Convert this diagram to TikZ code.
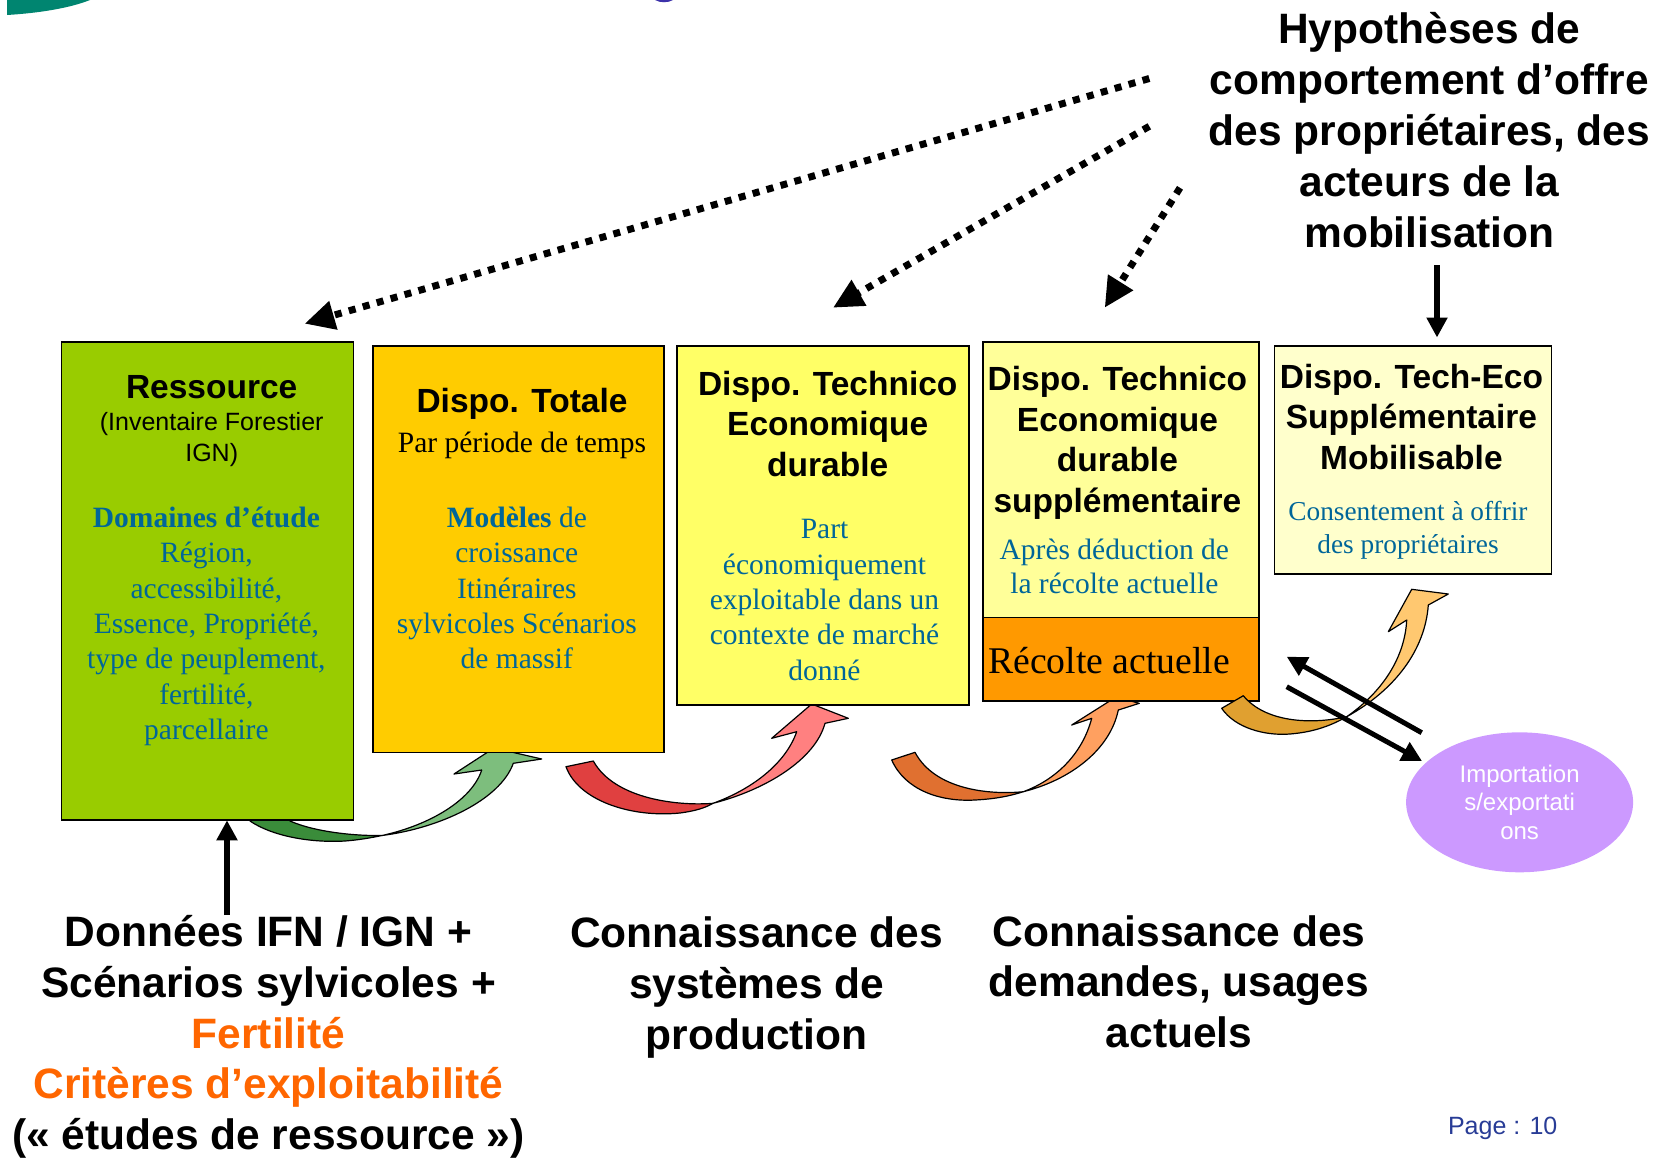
\documentclass[tikz,border=0pt]{standalone}
\usepackage{fontspec}
\setmainfont{Liberation Serif}
\setsansfont{Liberation Sans}
\usetikzlibrary{arrows.meta,shapes.geometric}

\definecolor{ressgreen}{RGB}{153,204,0}
\definecolor{totyellow}{RGB}{255,204,0}
\definecolor{teyellow}{RGB}{255,255,102}
\definecolor{supyellow}{RGB}{255,255,153}
\definecolor{mobyellow}{RGB}{255,255,204}
\definecolor{recorange}{RGB}{255,153,0}
\definecolor{lilac}{RGB}{204,153,255}
\definecolor{bodyblue}{RGB}{0,102,153}
\definecolor{hiorange}{RGB}{255,102,0}
\definecolor{pageblue}{RGB}{40,60,150}
\definecolor{logoteal}{RGB}{0,133,112}
\definecolor{titleblue}{RGB}{60,50,170}
\definecolor{greendark}{RGB}{58,140,58}
\definecolor{greenlight}{RGB}{125,190,125}
\definecolor{reddark}{RGB}{224,64,64}
\definecolor{redlight}{RGB}{255,128,128}
\definecolor{orangedark}{RGB}{224,112,48}
\definecolor{orangelight}{RGB}{255,160,96}
\definecolor{golddark}{RGB}{224,160,48}
\definecolor{goldlight}{RGB}{255,200,112}

\newcommand\fsz[2]{\fontsize{#1pt}{#2pt}\selectfont}

\begin{document}
\begin{tikzpicture}[x=1pt,y=-1pt,
  box/.style={draw=black, line width=1.8pt, rectangle, inner sep=0pt, outer sep=0pt},
  boxtitle/.style={font=\sffamily\bfseries\fsz{33.5}{40.8}, align=center, inner sep=0pt},
  boxbody/.style={font=\fsz{29.5}{35.4}, text=bodyblue, align=center, inner sep=0pt},
  bigtext/.style={font=\sffamily\bfseries\fsz{42.5}{50.8}, align=center, inner sep=0pt},
  band/.style={draw=black, line width=1.2pt, line join=round},
  dotarrow/.style={line width=7pt, dash pattern=on 7pt off 7.5pt,
    -{Triangle[length=30pt,width=28pt]}},
  solidarrow/.style={line width=5.5pt, -{Triangle[length=20pt,width=20pt]}},
  flowarrow/.style={line width=5pt, -{Triangle[length=20pt,width=20pt]}}]
\useasboundingbox (0,0) rectangle (1664,1157);

% fragments of the page header
\fill[logoteal] (7,0) -- (7,15) .. controls (40,13) and (70,8) .. (90,0) -- cycle;
\fill[titleblue] (655,0) .. controls (660,3) and (668,3) .. (673,0) -- cycle;

% curved transfer arrows (behind the boxes)
\filldraw[band, fill=greendark] (250,815) -- (250,821) .. controls (272,836) and (310,843) .. (345,841)
  .. controls (358,840) and (370,838) .. (382,835.5)
  .. controls (355,836) and (315,832) .. (290,821) -- (290,815) -- cycle;
\filldraw[band, fill=greenlight] (382,835.5) .. controls (440,828) and (500,800) .. (513.3,763.3)
  -- (541.7,759) -- (494,748) -- (454,774) -- (481.7,770)
  .. controls (472,800) and (430,825) .. (382,835.5) -- cycle;

\filldraw[band, fill=reddark] (566,766.7) .. controls (578,800) and (630,818) .. (680,813)
  .. controls (695,811) and (705,808) .. (713,803.3)
  .. controls (680,806) and (615,800) .. (593.3,761) -- cycle;
\filldraw[band, fill=redlight] (713,803.3) .. controls (765,790) and (815,760) .. (825,723.3)
  -- (848.3,718.3) -- (811.7,704) -- (771.7,738.3) -- (796.7,731.7)
  .. controls (785,765) and (750,790) .. (713,803.3) -- cycle;

\filldraw[band, fill=orangedark] (891.7,760) .. controls (905,790) and (940,802) .. (975,800)
  .. controls (995,799) and (1010,796) .. (1023.3,791.7)
  .. controls (990,795) and (935,790) .. (915,752.3) -- cycle;
\filldraw[band, fill=orangelight] (1023.3,791.7) .. controls (1070,780) and (1110,750) .. (1118.3,710)
  -- (1139.3,703.3) -- (1116,697) -- (1071.7,725) -- (1091.7,718.3)
  .. controls (1082,755) and (1055,780) .. (1023.3,791.7) -- cycle;

% boxes
\node[box, fill=ressgreen, minimum width=292pt, minimum height=478.6pt] (b1) at (207.5,581) {};
\node[box, fill=totyellow, minimum width=291.6pt, minimum height=406.5pt] (b2) at (518.5,549.3) {};
\node[box, fill=teyellow, minimum width=292.3pt, minimum height=359pt] (b3) at (823.2,525.5) {};
\node[box, fill=supyellow, minimum width=276.3pt, minimum height=275.8pt] (b4) at (1120.8,479.6) {};
\node[box, fill=recorange, minimum width=276.3pt, minimum height=83.5pt] (b4r) at (1120.8,659.2) {};
\node[box, fill=mobyellow, minimum width=277pt, minimum height=228pt] (b5) at (1413,460) {};

% import / export
\node[ellipse, fill=lilac, minimum width=227pt, minimum height=140pt, inner sep=0pt,
  font=\sffamily\fsz{24}{28.7}, text=white, align=center] (imp) at (1519.6,802.3)
  {Importation\\s/exportati\\ons};

% curved arrow from the current harvest to the mobilisable supply
\filldraw[band, fill=golddark] (1221.7,708.3) .. controls (1235,728) and (1265,736) .. (1290,734)
  .. controls (1315,732) and (1332,725) .. (1346.7,716.7)
  .. controls (1310,725) and (1265,722) .. (1243.3,695.7) -- cycle;
\filldraw[band, fill=goldlight] (1346.7,716.7) .. controls (1395,690) and (1425,650) .. (1428.3,605)
  -- (1448.3,594) -- (1411.7,589.3) -- (1388.3,631.7) -- (1406.7,620)
  .. controls (1405,655) and (1385,690) .. (1346.7,716.7) -- cycle;

% exchanges with the outside
\coordinate (ximp1) at (1421.7,732.7);
\coordinate (xrec1) at (1286.7,656.7);
\coordinate (xrec2) at (1286.7,686.7);
\coordinate (ximp2) at (1422,761);
\draw[flowarrow] (ximp1) -- (xrec1);
\draw[flowarrow] (xrec2) -- (ximp2);

% box texts
\node[boxtitle] (t1) at (211.7,387) {Ressource};
\node[font=\sffamily\fsz{25}{31}, align=center, inner sep=0pt] (t1s) at (211.7,440)
  {(Inventaire Forestier\\IGN)};
\node[boxbody] (t1b) at (206.4,626.3)
  {\textbf{Domaines d’étude}\\Région,\\accessibilité,\\Essence, Propriété,\\type de peuplement,\\fertilité,\\parcellaire};

\node[boxtitle] (t2) at (522,404) {Dispo. Totale};
\node[font=\fsz{29.5}{35.4}, inner sep=0pt] (t2s) at (522,445.5) {Par période de temps};
\node[boxbody] (t2b) at (516.8,588) 
  {\textbf{Modèles} de\\croissance\\Itinéraires\\sylvicoles Scénarios\\de massif};

\node[boxtitle] (t3) at (827.7,424) {Dispo. Technico\\Economique\\durable};
\node[boxbody] (t3b) at (824.5,600)
  {Part\\économiquement\\exploitable dans un\\contexte de marché\\donné};

\node[boxtitle] (t4) at (1117.4,442.8) {Dispo. Technico\\Economique\\durable\\supplémentaire};
\node[boxbody, font=\fsz{29.5}{34}] (t4b) at (1114.3,566.3) {Après déduction de\\la récolte actuelle};
\node[font=\fsz{37.7}{44}, inner sep=0pt] (t4r) at (1109,661) {Récolte actuelle};

\node[boxtitle, font=\sffamily\bfseries\fsz{33.5}{40.3}] (t5) at (1411.4,417) {Dispo. Tech-Eco\\Supplémentaire\\Mobilisable};
\node[boxbody, font=\fsz{27.3}{33}] (t5b) at (1408,530) {Consentement à offrir\\des propriétaires};

% owners' behaviour hypotheses
\node[bigtext, font=\sffamily\bfseries\fsz{42.5}{51}] (hyp) at (1429.4,130.5)
  {Hypothèses de\\comportement d’offre\\des propriétaires, des\\acteurs de la\\mobilisation};
\coordinate (d1s) at (1149.3,78.5);
\coordinate (d1e) at (304.6,323.7);
\coordinate (d2s) at (1149.3,126.3);
\coordinate (d2e) at (833,307.7);
\coordinate (d3s) at (1180,187.8);
\coordinate (d3e) at (1104.7,307.7);
\draw[dotarrow] (d1s) -- (d1e);
\draw[dotarrow] (d2s) -- (d2e);
\draw[dotarrow] (d3s) -- (d3e);
\coordinate (hypfoot) at (1437,265.3);
\draw[solidarrow, shorten >=8.5pt] (hypfoot) -- (hypfoot |- b5.north);

% knowledge sources
\node[bigtext] (src1) at (268.5,1037)
  {Données IFN / IGN +\\Scénarios sylvicoles +\\{\color{hiorange}Fertilité}\\{\color{hiorange}Critères d’exploitabilité}\\(« études de ressource »)};
\coordinate (datafoot) at (227,915);
\draw[solidarrow] (datafoot) -- (datafoot |- b1.south);
\node[bigtext] (src2) at (756.6,987.2) {Connaissance des\\systèmes de\\production};
\node[bigtext] (src3) at (1179,981.6) {Connaissance des\\demandes, usages\\actuels};

\node[font=\sffamily\fsz{25}{30}, text=pageblue, inner sep=0pt] (page) at (1502.7,1128) {Page : 10};
\end{tikzpicture}
\end{document}
